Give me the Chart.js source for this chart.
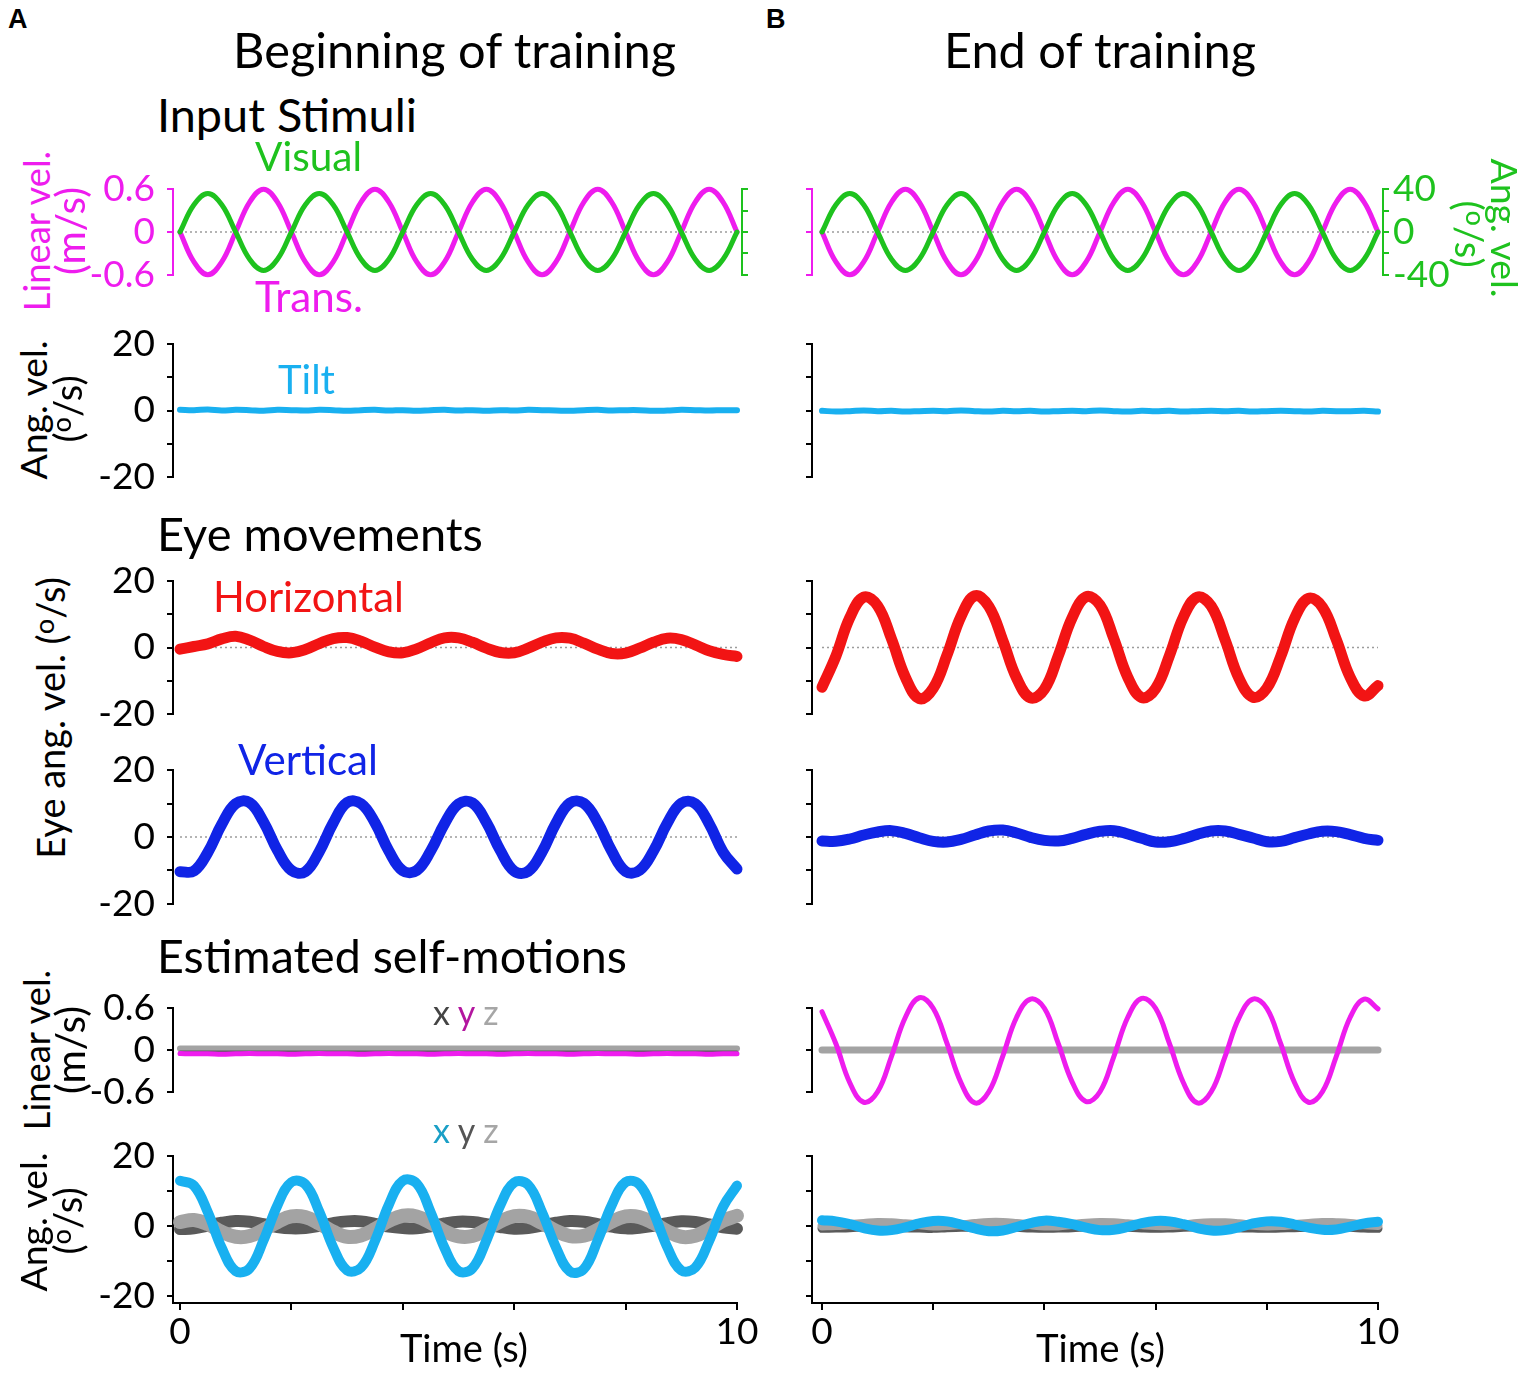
<!DOCTYPE html>
<html>
<head>
<meta charset="utf-8">
<script src="https://cdn.jsdelivr.net/npm/chart.js@4.4.1/dist/chart.umd.min.js"></script>
<style>
body { margin: 0; background: #fff; }
#fig { position: relative; width: 1535px; height: 1378px; overflow: hidden; background: #fff; }
.pan { position: absolute; }
.txt { position: absolute; white-space: nowrap; }
.txt sup { font-size: 0.72em; vertical-align: 0.4em; line-height: 0; }
</style>
</head>
<body>
<div id="fig"></div>
<script>
//Time base (s), one sample every 0.25 s
const timeSec = [0,0.25,0.5,0.75,1,1.25,1.5,1.75, 2,2.25,2.5,2.75,3,3.25,3.5,3.75,
  4,4.25,4.5,4.75,5,5.25,5.5,5.75, 6,6.25,6.5,6.75,7,7.25,7.5,7.75,
  8,8.25,8.5,8.75,9,9.25,9.5,9.75, 10];
const zeroTime = [0, 10];
const zeroVals = [0, 0];

//Tick values and which of them carry a label
const timeTicks = [0, 2, 4, 6, 8, 10];
const timeLabels = [0, 10];
const angTicks = [-20, -10, 0, 10, 20];
const angLabels = [-20, 0, 20];
const linTicks = [-0.6, 0, 0.6];
const linLabels = [-0.6, 0, 0.6];
const visTicks = [-40, -20, 0, 20, 40];
const visLabels = [-40, 0, 40];

//Input stimuli (same in both columns)
const transVel = [0,-0.42,-0.6,-0.42,0,0.42,0.6,0.42, 0,-0.42,-0.6,-0.42,0,0.42,0.6,0.42,
  0,-0.42,-0.6,-0.42,0,0.42,0.6,0.42, 0,-0.42,-0.6,-0.42,0,0.42,0.6,0.42,
  0,-0.42,-0.6,-0.42,0,0.42,0.6,0.42, 0];
const visualVel = [0,25.5,36,25.5,0,-25.5,-36,-25.5, 0,25.5,36,25.5,0,-25.5,-36,-25.5,
  0,25.5,36,25.5,0,-25.5,-36,-25.5, 0,25.5,36,25.5,0,-25.5,-36,-25.5,
  0,25.5,36,25.5,0,-25.5,-36,-25.5, 0];

//Tilt (deg/s)
const tiltBegin = [0.2,0.1,0.3,0.0,0.2,0.1,-0.1,0.2, 0.1,0.0,0.2,0.1,-0.1,0.1,0.2,0.0,
  0.1,-0.1,0.1,0.2,0.0,0.1,-0.1,0.1, 0.0,0.2,0.1,0.0,-0.1,0.1,0.2,0.0,
  0.1,0.1,-0.1,0.0,0.2,0.1,0.0,0.1, 0.1];
const tiltEnd = [-0.1,-0.3,-0.2,0.0,-0.2,-0.1,-0.3,-0.2, -0.1,-0.2,0.0,-0.2,-0.3,-0.1,-0.2,-0.1,
  -0.3,-0.2,-0.1,-0.2,0.0,-0.2,-0.3,-0.1, -0.2,-0.1,-0.3,-0.2,-0.1,-0.2,-0.1,-0.3,
  -0.2,-0.1,-0.2,-0.3,-0.1,-0.2,-0.2,-0.1, -0.3];

//Eye movements (deg/s)
const horBegin = [-0.5,0.3,1.1,2.6,3.4,2.2,0.3,-1.2, -1.6,-0.6,1.2,2.7,3.0,1.9,0.1,-1.3,
  -1.6,-0.4,1.4,2.9,2.9,1.6,-0.2,-1.5, -1.6,-0.2,1.6,2.9,2.8,1.3,-0.5,-1.8,
  -1.7,-0.2,1.6,2.8,2.4,0.8,-1.0,-2.1, -2.7];
const horEnd = [-12.0,-2.6,9.0,15.2,12.6,2.6,-9.0,-15.4, -12.3,-2.2,9.4,15.6,12.4,2.2,-9.2,-15.2,
  -12.6,-2.5,9.0,15.3,12.8,2.6,-9.0,-15.1, -12.4,-2.4,9.2,15.2,12.5,2.3,-9.3,-15.0,
  -12.3,-2.7,8.8,14.8,12.2,2.4,-9.0,-14.6, -11.5];
const verBegin = [-10.4,-10.2,-4.6,3.8,10.0,10.3,4.5,-4.0, -10.0,-10.4,-4.4,4.2,10.3,10.0,4.3,-4.2,
  -10.1,-10.0,-4.2,4.0,9.9,10.2,4.4,-4.0, -10.2,-10.3,-4.5,4.1,10.2,10.1,4.3,-4.2,
  -10.3,-10.0,-4.2,4.2,10.1,10.0,4.0,-4.5, -9.6];
const verEnd = [-1.2,-1.3,-0.6,0.6,1.5,1.9,1.1,-0.2, -1.3,-1.5,-0.7,0.6,1.8,2.1,1.2,-0.1,
  -1.0,-1.2,-0.4,0.8,1.7,1.9,0.9,-0.4, -1.5,-1.4,-0.5,0.8,1.8,1.8,0.8,-0.3,
  -1.4,-1.3,-0.2,0.9,1.7,1.6,0.7,-0.4, -1.0];

//Estimated linear velocity (m/s): x, y, z
const linXBegin = [-0.03,-0.03,-0.03,-0.03,-0.03,-0.03,-0.03,-0.03, -0.03,-0.03,-0.03,-0.03,-0.03,-0.03,-0.03,-0.03,
  -0.03,-0.03,-0.03,-0.03,-0.03,-0.03,-0.03,-0.03, -0.03,-0.03,-0.03,-0.03,-0.03,-0.03,-0.03,-0.03,
  -0.03,-0.03,-0.03,-0.03,-0.03,-0.03,-0.03,-0.03, -0.03];
const linYBegin = [-0.05,-0.055,-0.055,-0.06,-0.055,-0.05,-0.055,-0.055, -0.06,-0.055,-0.05,-0.055,-0.055,-0.06,-0.055,-0.05,
  -0.055,-0.055,-0.06,-0.055,-0.05,-0.055,-0.055,-0.06, -0.055,-0.05,-0.055,-0.055,-0.06,-0.055,-0.05,-0.055,
  -0.055,-0.06,-0.055,-0.05,-0.055,-0.055,-0.06,-0.055, -0.055];
const linZBegin = [0.02,0.02,0.02,0.02,0.02,0.02,0.02,0.02, 0.02,0.02,0.02,0.02,0.02,0.02,0.02,0.02,
  0.02,0.02,0.02,0.02,0.02,0.02,0.02,0.02, 0.02,0.02,0.02,0.02,0.02,0.02,0.02,0.02,
  0.02,0.02,0.02,0.02,0.02,0.02,0.02,0.02, 0.02];
const linYEnd = [0.55,0.09,-0.47,-0.75,-0.60,-0.09,0.47,0.75, 0.60,0.09,-0.47,-0.76,-0.60,-0.09,0.47,0.73,
  0.60,0.09,-0.46,-0.74,-0.60,-0.09,0.47,0.74, 0.60,0.09,-0.47,-0.76,-0.60,-0.09,0.46,0.73,
  0.60,0.09,-0.47,-0.75,-0.60,-0.09,0.47,0.73, 0.59];
const linZEnd = [0,0,0,0,0,0,0,0, 0,0,0,0,0,0,0,0, 0,0,0,0,0,0,0,0, 0,0,0,0,0,0,0,0,
  0,0,0,0,0,0,0,0, 0];

//Estimated angular velocity (deg/s): x, y, z
const angXBegin = [13.0,11.6,4.0,-6.2,-12.8,-12.0,-4.0,6.0, 12.6,12.0,4.2,-6.0,-12.6,-11.8,-4.2,6.2,
  13.0,12.2,4.0,-6.2,-12.8,-12.0,-4.1,6.0, 12.5,11.8,4.0,-6.0,-12.9,-12.2,-4.0,6.0,
  12.6,11.9,4.1,-6.0,-12.6,-11.8,-4.2,5.6, 11.6];
const angYBegin = [-0.8,-0.6,0.2,1.0,1.5,1.3,0.6,-0.2, -0.6,-0.5,0.1,0.9,1.4,1.4,0.7,-0.1,
  -0.5,-0.6,0.0,0.8,1.3,1.2,0.6,-0.2, -0.7,-0.5,0.2,1.0,1.5,1.3,0.6,-0.1,
  -0.6,-0.4,0.1,0.9,1.4,1.2,0.5,-0.3, -0.7];
const angZBegin = [1.2,1.8,0.6,-1.6,-3.0,-2.8,-1.0,1.2, 2.8,2.6,0.8,-1.5,-3.0,-2.6,-0.8,1.5,
  3.0,2.8,1.0,-1.4,-2.9,-2.8,-0.9,1.4, 2.9,2.7,0.9,-1.3,-2.8,-2.7,-1.0,1.3,
  2.8,2.6,0.9,-1.4,-3.0,-2.7,-0.8,1.6, 3.0];
const angXEnd = [1.7,1.4,0.6,-0.5,-1.2,-1.1,-0.3,0.8, 1.5,1.4,0.5,-0.6,-1.4,-1.2,-0.2,0.9,
  1.6,1.3,0.6,-0.4,-1.1,-1.0,-0.2,0.9, 1.5,1.4,0.6,-0.5,-1.2,-1.1,-0.3,0.8,
  1.4,1.3,0.5,-0.4,-1.0,-0.9,-0.1,0.8, 1.3];
const angYEnd = [-0.6,-0.5,-0.4,-0.2,-0.1,-0.2,-0.4,-0.5, -0.6,-0.4,-0.3,-0.2,-0.1,-0.2,-0.3,-0.5,
  -0.6,-0.5,-0.4,-0.2,-0.1,-0.1,-0.3,-0.5, -0.6,-0.5,-0.3,-0.2,-0.1,-0.2,-0.4,-0.5,
  -0.6,-0.5,-0.4,-0.3,-0.1,-0.2,-0.3,-0.5, -0.6];
const angZEnd = [0.1,0.2,0.5,0.8,1.1,1.0,0.7,0.4, 0.1,0.2,0.4,0.8,1.1,1.1,0.8,0.4,
  0.1,0.1,0.5,0.9,1.1,1.0,0.7,0.4, 0.2,0.2,0.4,0.8,1.0,1.0,0.7,0.3,
  0.1,0.2,0.5,0.8,1.1,1.0,0.8,0.4, 0.2];

//Colours
const MAG = '#ee1cee', GREEN = '#1ec21e', LBLUE = '#19b0f0', RED = '#f21414',
  BLUE = '#1024e6', LGRAY = '#a3a3a3', DGRAY = '#5a5a5a', DOT = '#9c9c9c';
const TICK_SIZE = 37;

Chart.defaults.font.family = 'Lato';
Chart.defaults.animation = false;

const fig = document.getElementById('fig');
const mctx = document.createElement('canvas').getContext('2d');

//pixel placement of the two columns: y axis line, t=0, t=10
const cols = [
    {axisX: 173, t0: 180, t10: 737},
    {axisX: 812, t0: 822, t10: 1378}
];

function pts(ys, xs) {
    xs = xs || timeSec;
    return ys.map((y, i) => ({x: xs[i], y: y}));
}

function line(ys, color, width, extra) {
    return Object.assign({
        data: pts(ys), borderColor: color, borderWidth: width, pointRadius: 0,
        tension: 0.4, clip: false, fill: false,
        borderCapStyle: 'round', borderJoinStyle: 'round'
    }, extra || {});
}

function zeroDots(axis) {
    return {
        data: pts(zeroVals, zeroTime), borderColor: DOT, borderWidth: 1.6,
        borderDash: [2, 3], pointRadius: 0, yAxisID: axis || 'y'
    };
}

function yAxis(o) {
    return {
        type: 'linear', position: o.pos || 'left', min: o.min, max: o.max,
        afterBuildTicks: s => { s.ticks = o.ticks.map(v => ({value: v})); },
        afterFit: s => { s.width = o.width; },
        ticks: {
            autoSkip: false, color: o.color, padding: o.pad, font: {size: TICK_SIZE},
            callback: v => o.labels.includes(v) ? String(v) : ''
        },
        grid: {drawOnChartArea: false, color: o.color, lineWidth: 2, tickLength: 6},
        border: {color: o.color, width: 2}
    };
}

function panel(o) {
    const c = cols[o.col];
    const pps = (c.t10 - c.t0) / 10;
    const right = o.right || c.t10;
    const LW = 100, RW = o.y2 ? 100 : 30, PT = 28;
    const PB = o.timeAxis ? 0 : 28;
    const XH = o.timeAxis ? 55 : 0;
    const box = document.createElement('div');
    box.className = 'pan';
    box.style.left = (c.axisX - LW) + 'px';
    box.style.top = (o.top - PT) + 'px';
    box.style.width = (LW + (right - c.axisX) + RW) + 'px';
    box.style.height = (PT + (o.bottom - o.top) + PB + XH) + 'px';
    const cv = document.createElement('canvas');
    box.appendChild(cv);
    fig.appendChild(box);

    const scales = {
        x: {
            type: 'linear', min: -(c.t0 - c.axisX) / pps, max: 10 + (right - c.t10) / pps,
            display: !!o.timeAxis,
            afterBuildTicks: s => { s.ticks = timeTicks.map(v => ({value: v})); },
            afterFit: s => { s.height = XH; },
            ticks: {
                autoSkip: false, maxRotation: 0, color: '#000', padding: 0, font: {size: TICK_SIZE},
                callback: v => timeLabels.includes(v) ? String(v) : ''
            },
            grid: {drawOnChartArea: false, color: '#000', lineWidth: 2, tickLength: 7},
            border: {color: '#000', width: 2}
        },
        y: yAxis(Object.assign({width: LW, pad: 12, color: '#000'}, o.y))
    };
    if (o.y2) scales.y2 = yAxis(Object.assign({width: RW, pad: 4, pos: 'right'}, o.y2));

    new Chart(cv, {
        type: 'line',
        data: {datasets: o.datasets},
        options: {
            responsive: true, maintainAspectRatio: false, events: [],
            layout: {padding: {top: PT, bottom: PB, left: 0, right: o.y2 ? 0 : RW}},
            plugins: {legend: {display: false}, tooltip: {enabled: false}},
            scales: scales
        }
    });
}

//rows: pixel top (max value) and bottom (min value)
const rows = {
    stim: [183, 281], tilt: [338, 483], hor: [575, 720],
    ver: [764, 910], lin: [1002, 1098], ang: [1150, 1303]
};

[0, 1].forEach(col => {
    const first = col === 0;
    const angY = {min: -20, max: 20, ticks: angTicks, labels: first ? angLabels : []};

    panel({
        col: col, top: rows.stim[0], bottom: rows.stim[1], right: first ? 742 : 1383,
        y: {min: -0.6, max: 0.6, ticks: linTicks, labels: first ? linLabels : [], color: MAG},
        y2: {min: -40, max: 40, ticks: visTicks, labels: first ? [] : visLabels, color: GREEN},
        datasets: [
            line(visualVel, GREEN, 5, {yAxisID: 'y2'}),
            line(transVel, MAG, 5),
            zeroDots()
        ]
    });
    panel({
        col: col, top: rows.tilt[0], bottom: rows.tilt[1], y: angY,
        datasets: [line(first ? tiltBegin : tiltEnd, LBLUE, 6)]
    });
    panel({
        col: col, top: rows.hor[0], bottom: rows.hor[1], y: angY,
        datasets: [line(first ? horBegin : horEnd, RED, 11), zeroDots()]
    });
    panel({
        col: col, top: rows.ver[0], bottom: rows.ver[1], y: angY,
        datasets: [line(first ? verBegin : verEnd, BLUE, 11), zeroDots()]
    });
    panel({
        col: col, top: rows.lin[0], bottom: rows.lin[1],
        y: {min: -0.6, max: 0.6, ticks: linTicks, labels: first ? linLabels : []},
        datasets: first ? [
            line(linYBegin, MAG, 5),
            line(linXBegin, DGRAY, 3),
            line(linZBegin, LGRAY, 6)
        ] : [
            line(linYEnd, MAG, 5),
            line(linZEnd, LGRAY, 7)
        ]
    });
    // bottom row: y range stretched so the time axis sits a little under -20
    panel({
        col: col, top: rows.ang[0], bottom: rows.ang[1], timeAxis: true,
        y: {min: -21.9, max: 20, ticks: angTicks, labels: first ? angLabels : []},
        datasets: first ? [
            line(angXBegin, LBLUE, 10),
            line(angZBegin, LGRAY, 14),
            line(angYBegin, DGRAY, 12)
        ] : [
            line(angXEnd, LBLUE, 10),
            line(angZEnd, LGRAY, 9),
            line(angYEnd, DGRAY, 9)
        ]
    });
});

//Text
function fontStr(o, size) {
    return (o.weight || 'normal') + ' ' + size + 'px ' + (o.family || 'Lato');
}

function addText(o) {
    const d = document.createElement('div');
    d.className = 'txt';
    let size = o.size;
    if (!size) {
        mctx.font = fontStr(o, 100);
        size = 100 * o.width / mctx.measureText(o.text).width;
    }
    mctx.font = fontStr(o, size);
    const m = mctx.measureText(o.text);
    const asc = m.fontBoundingBoxAscent, desc = m.fontBoundingBoxDescent;
    if (o.html) d.innerHTML = o.html; else d.textContent = o.text;
    d.style.font = fontStr(o, size);
    d.style.lineHeight = size + 'px';
    d.style.color = o.color || '#000';
    if (o.rot) {
        d.style.left = o.cx + 'px';
        d.style.top = o.cy + 'px';
        d.style.transform = 'translate(-50%,-50%) rotate(' + o.rot + 'deg)';
    } else {
        d.style.left = o.left + 'px';
        d.style.top = (o.baseline - ((size - asc - desc) / 2 + asc)) + 'px';
    }
    fig.appendChild(d);
}

addText({text: 'A', left: 8, baseline: 28, size: 27, weight: 'bold', family: '"Liberation Sans"'});
addText({text: 'B', left: 766, baseline: 28, size: 27, weight: 'bold', family: '"Liberation Sans"'});
addText({text: 'Beginning of training', left: 233, baseline: 68, width: 444});
addText({text: 'End of training', left: 944, baseline: 68, width: 313});
addText({text: 'Input Stimuli', left: 157, baseline: 132, width: 260});
addText({text: 'Visual', left: 255, baseline: 172, width: 107, color: GREEN});
addText({text: 'Trans.', left: 255, baseline: 313, width: 108, color: MAG});
addText({text: 'Tilt', left: 278, baseline: 395, width: 57, color: LBLUE});
addText({text: 'Eye movements', left: 157, baseline: 551, width: 326});
addText({text: 'Horizontal', left: 213, baseline: 613, width: 191, color: RED});
addText({text: 'Vertical', left: 238, baseline: 776, width: 140, color: BLUE});
addText({text: 'Estimated self-motions', left: 157, baseline: 973, width: 470});
addText({text: 'Time (s)', left: 400, baseline: 1362, width: 128});
addText({text: 'Time (s)', left: 1036, baseline: 1362, width: 129});

//axis letters legend x y z
addText({text: 'x', html: '<span style="color:#444">x</span> <span style="color:#b3169f">y</span> <span style="color:#a6a6a6">z</span>',
    left: 433, baseline: 1025, size: 34});
addText({text: 'x', html: '<span style="color:#1a9fc6">x</span> <span style="color:#555">y</span> <span style="color:#a6a6a6">z</span>',
    left: 433, baseline: 1143, size: 34});

//y axis titles
const degHtml = '(<sup>o</sup>/s)';
addText({text: 'Linear vel.', rot: -90, cx: 36, cy: 231, width: 162, color: MAG});
addText({text: '(m/s)', rot: -90, cx: 70, cy: 231, width: 88, color: MAG});
addText({text: 'Ang. vel.', rot: -90, cx: 33, cy: 410, width: 140});
addText({text: '(o/s)', html: degHtml, rot: -90, cx: 67, cy: 409, size: 38});
addText({text: 'Eye ang. vel. (o/s)', html: 'Eye ang. vel. ' + degHtml, rot: -90, cx: 50, cy: 718, size: 38});
addText({text: 'Linear vel.', rot: -90, cx: 36, cy: 1050, width: 162});
addText({text: '(m/s)', rot: -90, cx: 70, cy: 1050, width: 88});
addText({text: 'Ang. vel.', rot: -90, cx: 33, cy: 1222, width: 140});
addText({text: '(o/s)', html: degHtml, rot: -90, cx: 67, cy: 1221, size: 38});
addText({text: 'Ang. vel.', rot: 90, cx: 1505, cy: 228, width: 140, color: GREEN});
addText({text: '(o/s)', html: degHtml, rot: 90, cx: 1470, cy: 234, size: 38, color: GREEN});
</script>
</body>
</html>
